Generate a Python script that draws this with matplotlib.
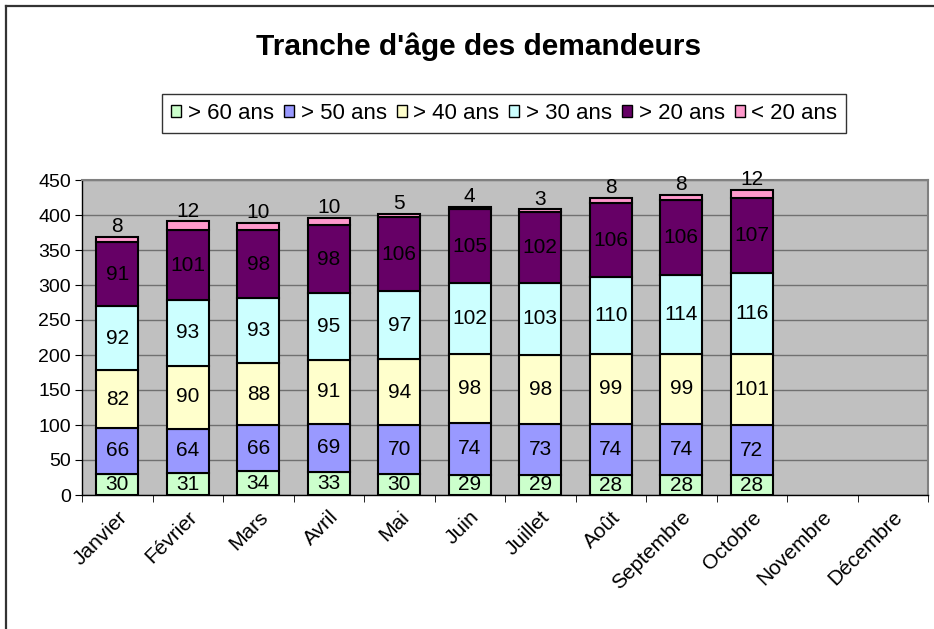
import matplotlib
matplotlib.use("Agg")
import matplotlib.pyplot as plt
from matplotlib.lines import Line2D
import numpy as np

plt.rcParams['font.family'] = ['Liberation Sans', 'DejaVu Sans']

months = ["Janvier", "Février", "Mars", "Avril", "Mai", "Juin", "Juillet",
          "Août", "Septembre", "Octobre", "Novembre", "Décembre"]
series_names = ["> 60 ans", "> 50 ans", "> 40 ans", "> 30 ans", "> 20 ans", "< 20 ans"]
over60 = [30, 31, 34, 33, 30, 29, 29, 28, 28, 28]
over50 = [66, 64, 66, 69, 70, 74, 73, 74, 74, 72]
over40 = [82, 90, 88, 91, 94, 98, 98, 99, 99, 101]
over30 = [92, 93, 93, 95, 97, 102, 103, 110, 114, 116]
over20 = [91, 101, 98, 98, 106, 105, 102, 106, 106, 107]
under20 = [8, 12, 10, 10, 5, 4, 3, 8, 8, 12]
colors = ["#CCFFCC", "#9999FF", "#FFFFCC", "#CCFFFF", "#660066", "#FF99CC"]
yticks = list(range(0, 451, 50))

series = [over60, over50, over40, over30, over20, under20]
FS = 14
LFS = 15

W, H = 934, 629
fig = plt.figure(figsize=(W / 100, H / 100), dpi=100)
# outer chart border (left and top visible; right/bottom cropped)
fig.add_artist(Line2D([5.5 / W, 5.5 / W], [0, 1 - 5.5 / H], transform=fig.transFigure,
                      color='#333333', linewidth=1.6))
fig.add_artist(Line2D([5.5 / W, 1], [1 - 5.5 / H, 1 - 5.5 / H], transform=fig.transFigure,
                      color='#333333', linewidth=1.6))

ax = fig.add_axes([82 / W, 134 / H, 846 / W, 315 / H])
ax.set_facecolor("#C0C0C0")

n = len(over60)
x = np.arange(n)
bottom = np.zeros(n)
handles = []
for i, (vals, name, col) in enumerate(zip(series, series_names, colors)):
    vals = np.array(vals, dtype=float)
    bars = ax.bar(x, vals, 0.6, bottom=bottom, color=col, edgecolor='black',
                  linewidth=1.5, label=name, zorder=3)
    handles.append(bars)
    for xi, b, v in zip(x, bottom, vals):
        if i < 5:
            ax.text(xi, b + v / 2, f"{int(v)}", ha='center', va='center',
                    fontsize=LFS, color='black', zorder=4)
        else:
            ax.text(xi, b + v + 0.5, f"{int(v)}", ha='center', va='bottom',
                    fontsize=LFS, color='black', zorder=4)
    bottom += vals

ax.set_xlim(-0.5, len(months) - 0.5)
ax.set_ylim(0, 450)
ax.set_yticks(yticks)
ax.set_yticklabels([str(t) for t in yticks], fontsize=FS)
ax.yaxis.grid(True, color='#707070', linewidth=1.0, zorder=0)
ax.set_axisbelow(True)

ax.set_xticks(np.arange(len(months)))
ax.set_xticklabels(months, rotation=45, ha='right', rotation_mode='anchor', fontsize=15)
ax.tick_params(axis='x', length=0, pad=9)
ax.set_xticks(np.arange(len(months) + 1) - 0.5, minor=True)
ax.tick_params(axis='x', which='minor', length=5, direction='out', color='black')
ax.tick_params(axis='y', length=5, direction='out', pad=3)

for side in ['top', 'right']:
    ax.spines[side].set_color('#808080')
    ax.spines[side].set_linewidth(1.5)
for side in ['left', 'bottom']:
    ax.spines[side].set_color('black')
    ax.spines[side].set_linewidth(1.0)

fig.text(0.512, 0.925, "Tranche d'âge des demandeurs", ha='center', va='center',
         fontsize=21.5, fontweight='bold')

leg = fig.legend(handles=handles, labels=series_names, loc='center',
                 bbox_to_anchor=(0.54, 0.819), ncol=6, fontsize=16,
                 frameon=True, fancybox=False, edgecolor='black',
                 handlelength=0.45, handleheight=0.45, handletextpad=0.3,
                 columnspacing=0.45, borderpad=0.4, borderaxespad=0)
leg.get_frame().set_linewidth(1.0)
for h in leg.legend_handles:
    h.set_linewidth(1.0)

fig.savefig("out.png", dpi=100)
